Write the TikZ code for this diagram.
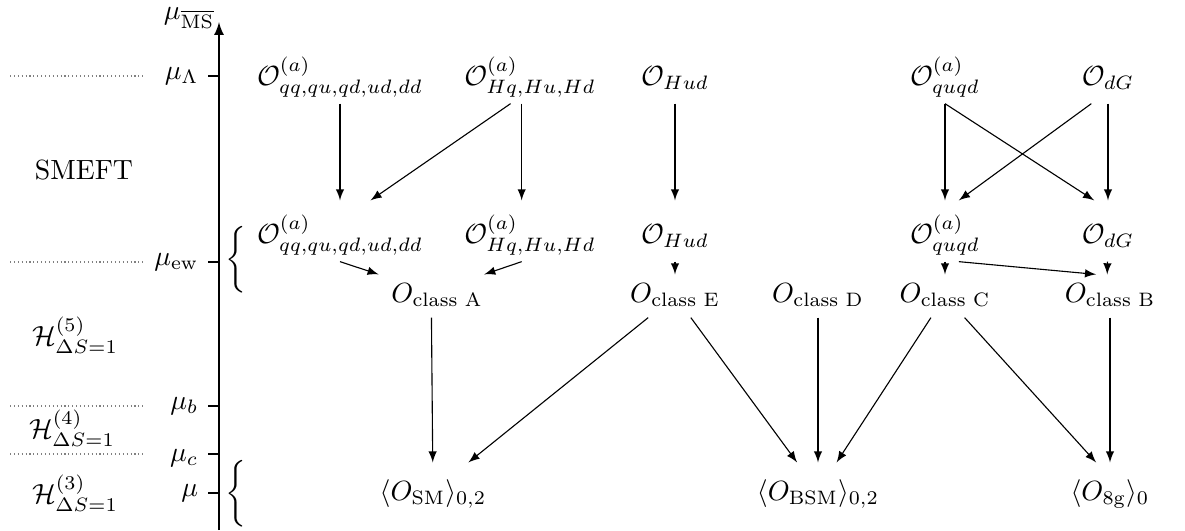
\documentclass[tikz,border=0pt]{standalone}
\usepackage{amsmath,amssymb}
\usetikzlibrary{arrows}
\tikzset{
  flow/.style={-latex, thin},
  scaleline/.style={densely dotted, gray},
  tick/.style={thin},
  op/.style={text height=12pt, text depth=3pt},
  cls/.style={text height=6.5pt, text depth=2pt},
  mel/.style={text height=10pt, text depth=3.5pt},
}
\begin{document}
\begin{tikzpicture}[x=0.36pt,y=-0.36pt]
        \useasboundingbox (0,0) rectangle (1185,530);

        % scale axis
        \draw[semithick,-latex] (219,530) -- (219,22);
        \node (msbar) at (189,18) {$\mu_{\overline{\text{MS}}}$};
        \foreach \y/\lab/\dy in {76/\mu_\Lambda/0, 262/\mu_{\text{ew}}/0, 406/\mu_b/0, 454/\mu_c/-1.5, 493/\mu/0}
            \draw[tick] (219,\y) -- (208,\y) node[left,yshift=\dy pt] {$\lab$};
        \foreach \y in {76,262,406,454}
            \draw[scaleline] (10,\y) -- (145,\y);

        \node (smeft) at (84,170) {SMEFT};
        \node (hfive) at (75,335) {$\mathcal{H}^{(5)}_{\Delta S=1}$};
        \node (hfour) at (72,428) {$\mathcal{H}^{(4)}_{\Delta S=1}$};
        \node (hthree) at (75,493) {$\mathcal{H}^{(3)}_{\Delta S=1}$};

        \node (brew) at (238,260) {$\left\{\rule[-8.5pt]{0pt}{17pt}\right.$};
        \node (brmu) at (238,494) {$\left\{\rule[-8.5pt]{0pt}{17pt}\right.$};

        % operators at mu_Lambda
        \node[op] (qqL) at (340,73) {$\mathcal{O}^{(a)}_{qq,qu,qd,ud,dd}$};
        \node[op] (HqL) at (530,73) {$\mathcal{O}^{(a)}_{Hq,Hu,Hd}$};
        \node[op] (HudL) at (675,73) {$\mathcal{O}_{Hud}$};
        \node[op] (quqdL) at (945,73) {$\mathcal{O}^{(a)}_{quqd}$};
        \node[op] (dGL) at (1108,73) {$\mathcal{O}_{dG}$};

        % operators at mu_ew
        \node[op] (qqE) at (340,231) {$\mathcal{O}^{(a)}_{qq,qu,qd,ud,dd}$};
        \node[op] (HqE) at (530,231) {$\mathcal{O}^{(a)}_{Hq,Hu,Hd}$};
        \node[op] (HudE) at (675,231) {$\mathcal{O}_{Hud}$};
        \node[op] (quqdE) at (945,231) {$\mathcal{O}^{(a)}_{quqd}$};
        \node[op] (dGE) at (1108,231) {$\mathcal{O}_{dG}$};

        % classes
        \node[cls] (cA) at (437,296) {$O_{\text{class A}}$};
        \node[cls] (cE) at (675,296) {$O_{\text{class E}}$};
        \node[cls] (cD) at (818,296) {$O_{\text{class D}}$};
        \node[cls] (cC) at (945,296) {$O_{\text{class C}}$};
        \node[cls] (cB) at (1110,296) {$O_{\text{class B}}$};

        % matrix elements
        \node[mel] (SM) at (433,491) {$\langle O_{\text{SM}}\rangle_{0,2}$};
        \node[mel] (BSM) at (818,491) {$\langle O_{\text{BSM}}\rangle_{0,2}$};
        \node[mel] (eightg) at (1110,491) {$\langle O_{8\text{g}}\rangle_0$};

        \draw[flow] (qqL) -- (qqE);
        \draw[flow] ([xshift=-7pt]HqL.south) -- ([xshift=11pt]qqE.north);
        \draw[flow] ([xshift=-3pt]HqL.south) -- ([xshift=-3pt]HqE.north);
        \draw[flow] (HudL) -- (HudE);
        \draw[flow] (quqdL) -- (quqdE);
        \draw[flow] (quqdL.south) -- ([xshift=-5pt]dGE.north);
        \draw[flow] ([xshift=-6pt]dGL.south) -- ([xshift=5pt]quqdE.north);
        \draw[flow] (dGL) -- (dGE);

        \draw[flow] (qqE.south) -- ([xshift=-21pt]cA.north);
        \draw[flow] ([xshift=-3pt]HqE.south) -- ([xshift=17pt]cA.north);
        \draw[flow] (HudE) -- (cE);
        \draw[flow] (quqdE) -- (cC);
        \draw[flow] ([xshift=5pt]quqdE.south) -- ([xshift=-5pt]cB.north);
        \draw[flow] (dGE) -- ([xshift=-1pt]cB.north);

        \draw[flow] ([xshift=-2pt]cA.south) -- (SM);
        \draw[flow] (cE) -- (SM);
        \draw[flow] (cE) -- (BSM);
        \draw[flow] (cD) -- (BSM);
        \draw[flow] (cC) -- (BSM);
        \draw[flow] (cC) -- ([xshift=-5pt]eightg.north);
        \draw[flow] (cB) -- (eightg);

    \end{tikzpicture}
\end{document}
